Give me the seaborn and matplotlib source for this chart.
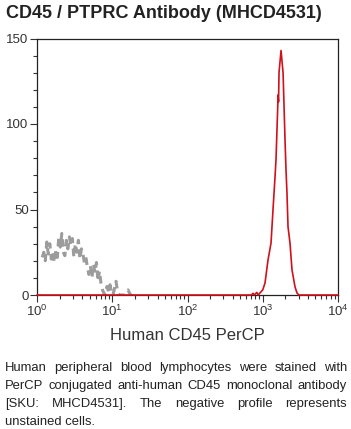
import numpy as np
import pandas as pd
import matplotlib
matplotlib.use("Agg")
import matplotlib.pyplot as plt
import matplotlib.ticker as mticker
import seaborn as sns

# ---------------- data ----------------
title = "CD45 / PTPRC Antibody (MHCD4531)"
xlabel = "Human CD45 PerCP"
caption_lines = [
    "Human peripheral blood lymphocytes were stained with",
    "PerCP conjugated anti-human CD45 monoclonal antibody",
    "[SKU: MHCD4531]. The negative profile represents",
    "unstained cells.",
]
y_ticks = [0, 50, 100, 150]
x_tick_exps = [0, 1, 2, 3, 4]

# negative (unstained) profile: log10 intensity, counts
neg_log = [0.07, 0.09, 0.11, 0.13, 0.15, 0.17, 0.19, 0.21, 0.23, 0.25,
           0.27, 0.29, 0.31, 0.33, 0.35, 0.37, 0.39, 0.41, 0.43, 0.45,
           0.47, 0.49, 0.51, 0.53, 0.55, 0.57, 0.59, 0.61, 0.63, 0.65,
           0.67, 0.69, 0.71, 0.73, 0.75, 0.77, 0.79, 0.81, 0.83, 0.85,
           0.87, 0.89, 0.91, 0.93, 0.95, 0.97, 0.99, 1.01, 1.03, 1.05,
           1.07, 1.09, 1.11, 1.13, 1.15, 1.17, 1.19, 1.21, 1.23, 1.25]
neg_count = [22, 25, 20, 31, 24, 30, 21, 25, 19, 26,
             22, 34, 28, 36, 25, 23, 32, 27, 34, 29,
             33, 22, 30, 25, 32, 21, 27, 24, 19, 22,
             16, 12, 17, 10, 18, 13, 19, 8, 14, 7,
             3, 1, 0, 5, 2, 6, 1, 0, 4, 8,
             2, 0, 0, 0, 0, 0, 2, 3, 1, 0]

# CD45 stained profile: log10 intensity, counts
pos_log = [0.0, 2.85, 2.87, 2.89, 2.92, 2.94, 2.963, 3.0, 3.03, 3.07,
           3.11, 3.136, 3.163, 3.176, 3.199, 3.203, 3.21, 3.216, 3.243, 3.27,
           3.296, 3.31, 3.322, 3.336, 3.362, 3.389, 3.429, 3.455, 3.48, 4.0]
pos_count = [0, 0, 1, 0, 1.5, 0, 1.2, 3, 7, 20.5,
             30.4, 49.7, 69, 79, 110, 117, 113, 130, 143, 130,
             90.6, 72, 59.6, 39.8, 30.4, 14.6, 4.7, 1.2, 0, 0]

neg_df = pd.DataFrame({"intensity": np.power(10.0, neg_log), "count": neg_count})
pos_df = pd.DataFrame({"intensity": np.power(10.0, pos_log), "count": pos_count})

# ---------------- style ----------------
sns.set_theme(style="ticks")
plt.rcParams["font.family"] = ["Liberation Sans", "DejaVu Sans"]
plt.rcParams["mathtext.fontset"] = "custom"
plt.rcParams["mathtext.rm"] = "Liberation Sans"
plt.rcParams["mathtext.it"] = "Liberation Sans"
plt.rcParams["mathtext.bf"] = "Liberation Sans:bold"

W, H = 351, 429
fig = plt.figure(figsize=(W / 100, H / 100), dpi=100)
ax = fig.add_axes([37 / W, 1 - 295 / H, (338 - 37) / W, (295 - 38.5) / H])

sns.lineplot(data=neg_df, x="intensity", y="count", ax=ax, color="#9c9c9c",
             linewidth=2.2, dashes=False, estimator=None, sort=False)
ax.lines[-1].set_dashes([2.5, 1.8])
sns.lineplot(data=pos_df, x="intensity", y="count", ax=ax, color="#d0101a",
             linewidth=1.2, estimator=None, sort=False)
ax.lines[-1].set_clip_on(False)
ax.lines[-1].set_zorder(5)

ax.set_xscale("log")
ax.set_xlim(1, 1e4)
ax.set_ylim(0, 150)
ax.set_xticks([10.0 ** e for e in x_tick_exps])
ax.set_xticklabels([rf"$10^{{{e}}}$" for e in x_tick_exps])
ax.xaxis.set_minor_locator(mticker.LogLocator(base=10, subs=np.arange(2, 10)))
ax.xaxis.set_minor_formatter(mticker.NullFormatter())
ax.set_yticks(y_ticks)
ax.set_yticklabels([str(v) for v in y_ticks])
ax.yaxis.set_minor_locator(mticker.MultipleLocator(10))

ax.tick_params(axis="both", which="major", direction="out", length=5, width=0.8,
               color="#333333", labelsize=9.5, labelcolor="#333333", pad=1)
ax.tick_params(axis="both", which="minor", direction="out", length=3, width=0.8,
               color="#333333")
for s in ax.spines.values():
    s.set_visible(True)
    s.set_linewidth(0.9)
    s.set_color("#222222")

ax.set_xlabel(xlabel, fontsize=12, color="#333333", labelpad=7)
ax.set_ylabel("")

fig.text(6 / W, 1 - 18 / H, title, fontsize=13, fontweight="bold",
         color="#222222", va="baseline", ha="left")

# justified caption
fig.canvas.draw()
r = fig.canvas.get_renderer()
x0, x1 = 5, 347
baselines = [371, 389, 407, 425]
cap_kw = dict(fontsize=9.4, color="#222222", va="baseline", ha="left")
for i, line in enumerate(caption_lines):
    y = 1 - baselines[i] / H
    words = line.split()
    if i == len(caption_lines) - 1:
        fig.text(x0 / W, y, line, **cap_kw)
        continue
    widths = []
    for w in words:
        t = fig.text(0, 0, w, **cap_kw)
        widths.append(t.get_window_extent(r).width)
        t.remove()
    gap = (x1 - x0 - sum(widths)) / (len(words) - 1)
    x = x0
    for w, wd in zip(words, widths):
        fig.text(x / W, y, w, **cap_kw)
        x += wd + gap

fig.savefig("out.png", dpi=100)
